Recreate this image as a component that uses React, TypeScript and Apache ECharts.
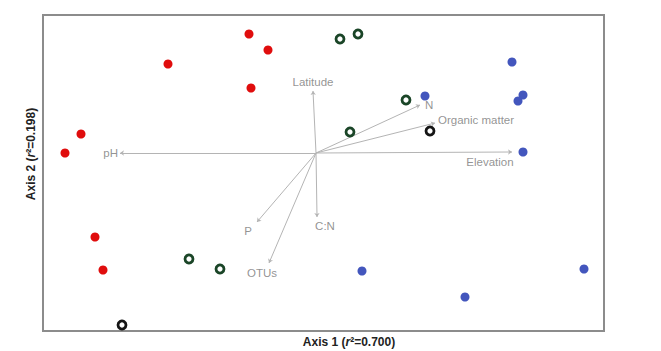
import React, { useEffect, useRef } from "react";
import * as echarts from "echarts";

// Ordination scores (Axis 1, Axis 2)
const redSites: number[][] = [
  [-0.67, 1.19], [-0.48, 1.03], [-1.48, 0.89], [-0.65, 0.65],
  [-2.35, 0.19], [-2.51, 0.0], [-2.21, -0.84], [-2.13, -1.17],
];
const greenSites: number[][] = [
  [0.24, 1.14], [0.42, 1.19], [0.9, 0.53], [0.34, 0.21],
  [-1.27, -1.06], [-0.96, -1.16],
];
const blackSites: number[][] = [
  [1.14, 0.22], [-1.94, -1.72],
];
const blueSites: number[][] = [
  [1.96, 0.91], [1.09, 0.57], [2.07, 0.58], [2.02, 0.52],
  [2.07, 0.01], [0.46, -1.18], [1.49, -1.44], [2.68, -1.16],
];

const vectorNames = ["Latitude", "N", "Organic matter", "Elevation", "pH", "P", "C:N", "OTUs"];
const vectorX = [-0.03, 1.04, 1.19, 1.96, -1.96, -0.59, 0.01, -0.47];
const vectorY = [0.62, 0.48, 0.3, 0.01, 0.0, -0.69, -0.64, -1.1];

const axisRange = { xMin: -2.73, xMax: 2.88, yMin: -1.78, yMax: 1.38 };

const labelPlacement: Record<string, any> = {
  Latitude: { position: "top", distance: 3, offset: [0, 0] },
  N: { position: "right", distance: 5, offset: [0, 0] },
  "Organic matter": { position: "right", distance: 3, offset: [0, -3] },
  Elevation: { position: "bottom", distance: 4, offset: [-22, 0] },
  pH: { position: "left", distance: 2, offset: [0, 0] },
  P: { position: "bottom", distance: 3, offset: [-9, 0] },
  "C:N": { position: "bottom", distance: 3, offset: [8, 0] },
  OTUs: { position: "bottom", distance: 4, offset: [-7, 0] },
};

export default function App() {
  const ref = useRef<HTMLDivElement>(null);
  useEffect(() => {
    if (!ref.current) return;
    const chart = echarts.init(ref.current, undefined, { renderer: "svg" });
    const font = "Liberation Sans, Arial, sans-serif";
    const vecLines = vectorNames.map((n, i) => ({
      coords: [[0, 0], [vectorX[i], vectorY[i]]],
    }));
    const vecLabels = vectorNames.map((n, i) => ({
      name: n,
      value: [vectorX[i], vectorY[i]],
      label: { show: true, formatter: n, ...labelPlacement[n] },
    }));
    const hollow = (data: number[][], color: string) => ({
      type: "scatter",
      data,
      symbol: "circle",
      symbolSize: 8,
      itemStyle: { color: "#ffffff", borderColor: color, borderWidth: 2.8, opacity: 1 },
      emphasis: { disabled: true },
      z: 5,
    });
    chart.setOption({
      animation: false,
      grid: {
        left: 43, top: 15, width: 561, height: 316,
        show: true, borderColor: "#8c8c8c", borderWidth: 2, backgroundColor: "#fff",
      },
      xAxis: {
        type: "value", min: axisRange.xMin, max: axisRange.xMax,
        axisLine: { show: false }, axisTick: { show: false },
        axisLabel: { show: false }, splitLine: { show: false },
      },
      yAxis: {
        type: "value", min: axisRange.yMin, max: axisRange.yMax,
        axisLine: { show: false }, axisTick: { show: false },
        axisLabel: { show: false }, splitLine: { show: false },
      },
      graphic: [
        {
          type: "text", x: 349, y: 342,
          style: {
            text: "Axis 1 ({i|r}²=0.700)", fill: "#222", font: `bold 12px ${font}`,
            align: "center", verticalAlign: "middle",
            rich: { i: { fontStyle: "italic", fontWeight: "bold", fontSize: 12, fontFamily: font, fill: "#222" } },
          },
        },
        {
          type: "text", x: 31, y: 154, rotation: Math.PI / 2,
          style: {
            text: "Axis 2 ({i|r}²=0.198)", fill: "#222", font: `bold 12px ${font}`,
            align: "center", verticalAlign: "middle",
            rich: { i: { fontStyle: "italic", fontWeight: "bold", fontSize: 12, fontFamily: font, fill: "#222" } },
          },
        },
      ],
      series: [
        {
          type: "lines",
          coordinateSystem: "cartesian2d",
          data: vecLines,
          symbol: ["none", "arrow"],
          symbolSize: 4,
          lineStyle: { color: "#b4b4b4", width: 1, opacity: 1 },
          z: 1,
        },
        {
          type: "scatter",
          data: vecLabels,
          symbolSize: 0,
          label: { show: true, color: "#777777", fontSize: 11.5, fontFamily: font },
          z: 2,
        },
        {
          type: "scatter",
          data: redSites,
          symbol: "circle",
          symbolSize: 9,
          itemStyle: { color: "#e00d0d", opacity: 1 },
          z: 5,
        },
        {
          type: "scatter",
          data: blueSites,
          symbol: "circle",
          symbolSize: 9,
          itemStyle: { color: "#4356bd", opacity: 1 },
          z: 5,
        },
        hollow(greenSites, "#1a4527"),
        hollow(blackSites, "#151515"),
      ],
    });
    return () => chart.dispose();
  }, []);
  return <div ref={ref} style={{ width: 661, height: 351, position: "absolute", left: 0, top: 0 }} />;
}
